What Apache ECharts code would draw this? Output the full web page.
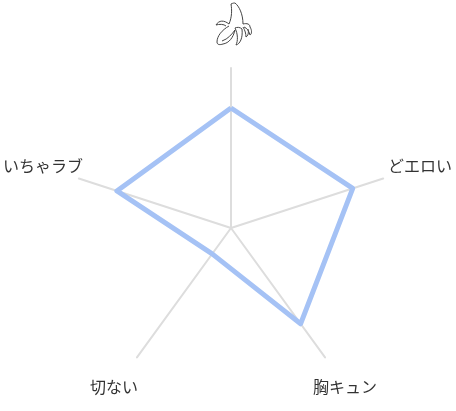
<!DOCTYPE html>
<html><head><meta charset="utf-8">
<script src="https://cdn.jsdelivr.net/npm/echarts@6/dist/echarts.min.js"></script>
<style>html,body{margin:0;padding:0;background:#fff}#c{width:456px;height:411px}</style>
</head><body><div id="c"></div>
<script>
// ECharts lays radar axes out counter-clockwise from the top.
const categories = ['バナナ', 'いちゃラブ', '切ない', '胸キュン', 'どエロい'];
const values = [75, 75, 20, 74, 80];
const maxValue = 100;
const labelNames = ['どエロい', '胸キュン', '切ない', 'いちゃラブ'];
const bananaOutline = 'M231 4 C233 3 234 3 235 3 C239 6 243 14 243 24 M231 4 C232 10 232 17 229 24 M229 24 C224 20 219 20 216 25 C219 24 224 24 226 26 M243 24 C247 23 250 24 250 27 C252 30 252 34 250 35 C249 31 247 28 244 27 M229 26 C222 30 217 36 217 42 C217 45 220 45 223 44 C229 43 233 38 235 30 C232 34 228 39 222 41 M235 28 C238 34 238 41 236 45 C240 44 243 38 242 29 C240 27 237 27 235 28 M243 27 C245 30 246 34 246 37 C248 36 249 33 248 29';
echarts.graphic.registerShape('banana', echarts.graphic.extendPath(bananaOutline, {}));
const labelSpots = [[388,166],[313,387],[90,387],[3,166]];
const chart = echarts.init(document.getElementById('c'));
chart.setOption({
  animation:false,
  radar:{
    center:[231,228], radius:160, startAngle:90, splitNumber:1, shape:'polygon',
    indicator:categories.map(name=>({name,max:maxValue,min:0})),
    axisLine:{show:true,lineStyle:{color:'#dddddd',width:2}},
    splitLine:{show:false}, splitArea:{show:false}, axisTick:{show:false}, axisLabel:{show:false},
    axisName:{show:false}
  },
  series:[{type:'radar',symbol:'none',
    lineStyle:{color:'#a5c2f5',width:5},
    data:[{value:values}]}],
  graphic:[{type:'banana',z:10,silent:true,shape:{},
    style:{fill:null,stroke:'#444',lineWidth:1}}].concat(labelNames.map((t,i)=>({
      type:'text',x:labelSpots[i][0],y:labelSpots[i][1],silent:true,
      style:{text:t,fill:'#333',fontSize:16,fontFamily:'"Noto Sans CJK JP"',align:'left',verticalAlign:'middle'}
    })))
});
</script></body></html>
